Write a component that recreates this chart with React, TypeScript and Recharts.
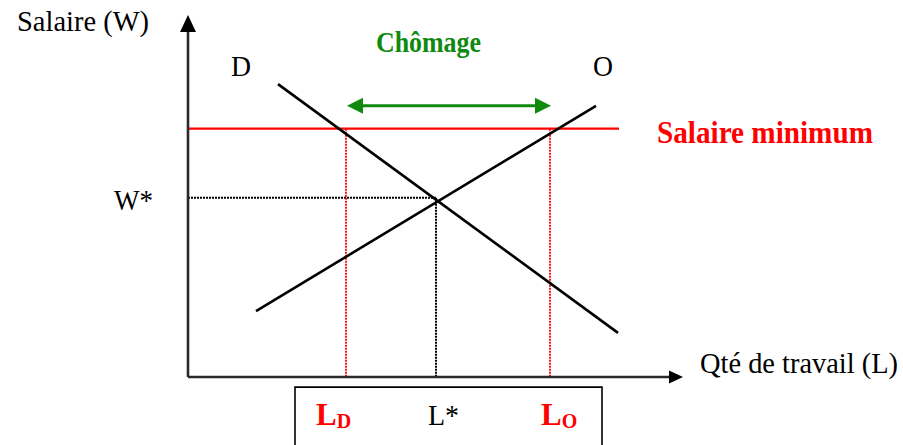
import React from 'react';
import {
  ComposedChart,
  Line,
  XAxis,
  YAxis,
  ReferenceLine,
  ReferenceDot,
  ReferenceArea,
} from 'recharts';

// ---- Data (quantity of labour L on x, wage W on y, in 0..100 units) ----
const demandL = [18, 86];
const demandW = [80.9, 12.2];
const offerL = [13.6, 81.6];
const offerW = [18.2, 74.9];
const minWage = 68.6;
const minWageEndL = 86.2;
const wStar = 49.5;
const lStar = 49.6;
const lD = 31.6;
const lO = 72.4;
const chomageArrowW = 74.9;

// ---- Text ----
const yTitle = 'Salaire (W)';
const xTitle = 'Qté de travail (L)';
const demandName = 'D';
const offerName = 'O';
const chomageText = 'Chômage';
const minWageText = 'Salaire minimum';
const wStarText = 'W*';
const lStarText = 'L*';
const lDText = ['L', 'D'];
const lOText = ['L', 'O'];

const demandData = demandL.map((l, i) => ({ l, w: demandW[i] }));
const offerData = offerL.map((l, i) => ({ l, w: offerW[i] }));

const FONT = '"Liberation Serif", "Times New Roman", serif';
const RED = '#ff0000';
const GREEN = '#0f8a0f';
const AXIS = '#2a2a2a';

type TxtOpts = {
  size: number;
  width?: number;
  color?: string;
  weight?: string;
  anchor?: 'start' | 'middle' | 'end';
};

const txt = (content: string, o: TxtOpts) => (p: any) => (
  <text
    x={p.cx}
    y={p.cy}
    fontFamily={FONT}
    fontSize={o.size}
    fontWeight={o.weight || 'normal'}
    fill={o.color || '#000'}
    textAnchor={o.anchor || 'start'}
    textLength={o.width}
    lengthAdjust="spacingAndGlyphs"
  >
    {content}
  </text>
);

const subTxt = (parts: string[], color: string) => (p: any) => (
  <text x={p.cx} y={p.cy} fontFamily={FONT} fontWeight="bold" fill={color}>
    <tspan fontSize={31}>{parts[0]}</tspan>
    <tspan fontSize={20} dy={3}>{parts[1]}</tspan>
  </text>
);

const arrowUp = (color: string, len: number, half: number) => (p: any) => (
  <polygon
    points={`${p.cx},${p.cy} ${p.cx - half},${p.cy + len} ${p.cx + half},${p.cy + len}`}
    fill={color}
  />
);
const arrowRight = (color: string, len: number, half: number) => (p: any) => (
  <polygon
    points={`${p.cx},${p.cy} ${p.cx - len},${p.cy - half} ${p.cx - len},${p.cy + half}`}
    fill={color}
  />
);
const arrowLeft = (color: string, len: number, half: number) => (p: any) => (
  <polygon
    points={`${p.cx},${p.cy} ${p.cx + len},${p.cy - half} ${p.cx + len},${p.cy + half}`}
    fill={color}
  />
);

export default function App() {
  return (
    <div
      style={{
        position: 'absolute',
        left: 0,
        top: 0,
        width: 903,
        height: 445,
        background: '#fff',
      }}
    >
      <ComposedChart
        width={903}
        height={445}
        margin={{ top: 15, right: 215, bottom: 68, left: 188 }}
      >
        <XAxis type="number" dataKey="l" domain={[0, 100]} hide allowDataOverflow />
        <YAxis type="number" dataKey="w" domain={[0, 100]} hide allowDataOverflow />

        {/* box below the axis */}
        <ReferenceArea
          x1={21.4}
          x2={82.8}
          y1={-2.8}
          y2={-30}
          ifOverflow="visible"
          fill="none"
          stroke="#000"
          strokeWidth={1.6}
          fillOpacity={0}
        />

        {/* dotted guides */}
        <ReferenceLine
          segment={[{ x: 0, y: wStar }, { x: lStar, y: wStar }]}
          stroke="#000"
          strokeWidth={2}
          strokeDasharray="2 1"
          ifOverflow="visible"
        />
        <ReferenceLine
          segment={[{ x: lStar, y: wStar }, { x: lStar, y: 0 }]}
          stroke="#000"
          strokeWidth={2}
          strokeDasharray="2 1"
          ifOverflow="visible"
        />
        <ReferenceLine
          segment={[{ x: lD, y: minWage }, { x: lD, y: 0 }]}
          stroke={RED}
          strokeWidth={1.8}
          strokeDasharray="2 1"
          ifOverflow="visible"
        />
        <ReferenceLine
          segment={[{ x: lO, y: minWage }, { x: lO, y: 0 }]}
          stroke={RED}
          strokeWidth={1.8}
          strokeDasharray="2 1"
          ifOverflow="visible"
        />

        {/* minimum wage */}
        <ReferenceLine
          segment={[{ x: 0, y: minWage }, { x: minWageEndL, y: minWage }]}
          stroke={RED}
          strokeWidth={2.2}
          ifOverflow="visible"
        />

        {/* demand and supply */}
        <Line
          data={demandData}
          dataKey="w"
          stroke="#000"
          strokeWidth={2.6}
          dot={false}
          activeDot={false}
          isAnimationActive={false}
          type="linear"
        />
        <Line
          data={offerData}
          dataKey="w"
          stroke="#000"
          strokeWidth={2.6}
          dot={false}
          activeDot={false}
          isAnimationActive={false}
          type="linear"
        />

        {/* axes */}
        <ReferenceLine
          segment={[{ x: 0, y: 0 }, { x: 0, y: 95.9 }]}
          stroke={AXIS}
          strokeWidth={2.6}
          ifOverflow="visible"
        />
        <ReferenceLine
          segment={[{ x: 0, y: 0 }, { x: 96.6, y: 0 }]}
          stroke={AXIS}
          strokeWidth={2.6}
          ifOverflow="visible"
        />
        <ReferenceDot x={0} y={100} ifOverflow="visible" shape={arrowUp('#000', 17, 8)} />
        <ReferenceDot x={99} y={0} ifOverflow="visible" shape={arrowRight('#000', 14, 6.5)} />

        {/* chômage arrow */}
        <ReferenceLine
          segment={[{ x: lD + 2.5, y: chomageArrowW }, { x: lO - 2.5, y: chomageArrowW }]}
          stroke={GREEN}
          strokeWidth={3}
          ifOverflow="visible"
        />
        <ReferenceDot x={lD + 0.2} y={chomageArrowW} ifOverflow="visible" shape={arrowLeft(GREEN, 16, 8)} />
        <ReferenceDot x={lO + 0.2} y={chomageArrowW} ifOverflow="visible" shape={arrowRight(GREEN, 16, 8)} />

        {/* texts */}
        <ReferenceDot x={-34.2} y={95.6} ifOverflow="visible" shape={txt(yTitle, { size: 30, width: 132 })} />
        <ReferenceDot x={10.6} y={83.1} ifOverflow="visible" shape={txt(demandName, { size: 30, width: 20, anchor: 'middle' })} />
        <ReferenceDot x={83} y={83.1} ifOverflow="visible" shape={txt(offerName, { size: 30, width: 20, anchor: 'middle' })} />
        <ReferenceDot
          x={37.6}
          y={89.8}
          ifOverflow="visible"
          shape={txt(chomageText, { size: 30, width: 105, color: GREEN, weight: 'bold' })}
        />
        <ReferenceDot
          x={93.8}
          y={64.6}
          ifOverflow="visible"
          shape={txt(minWageText, { size: 32, width: 216, color: RED, weight: 'bold' })}
        />
        <ReferenceDot x={-14.8} y={46.1} ifOverflow="visible" shape={txt(wStarText, { size: 30, width: 39 })} />
        <ReferenceDot x={102.4} y={1.1} ifOverflow="visible" shape={txt(xTitle, { size: 29, width: 198 })} />
        <ReferenceDot x={48} y={-13.3} ifOverflow="visible" shape={txt(lStarText, { size: 30, width: 31 })} />
        <ReferenceDot x={25.6} y={-13.3} ifOverflow="visible" shape={subTxt(lDText, RED)} />
        <ReferenceDot x={70.6} y={-13.3} ifOverflow="visible" shape={subTxt(lOText, RED)} />
      </ComposedChart>
    </div>
  );
}
